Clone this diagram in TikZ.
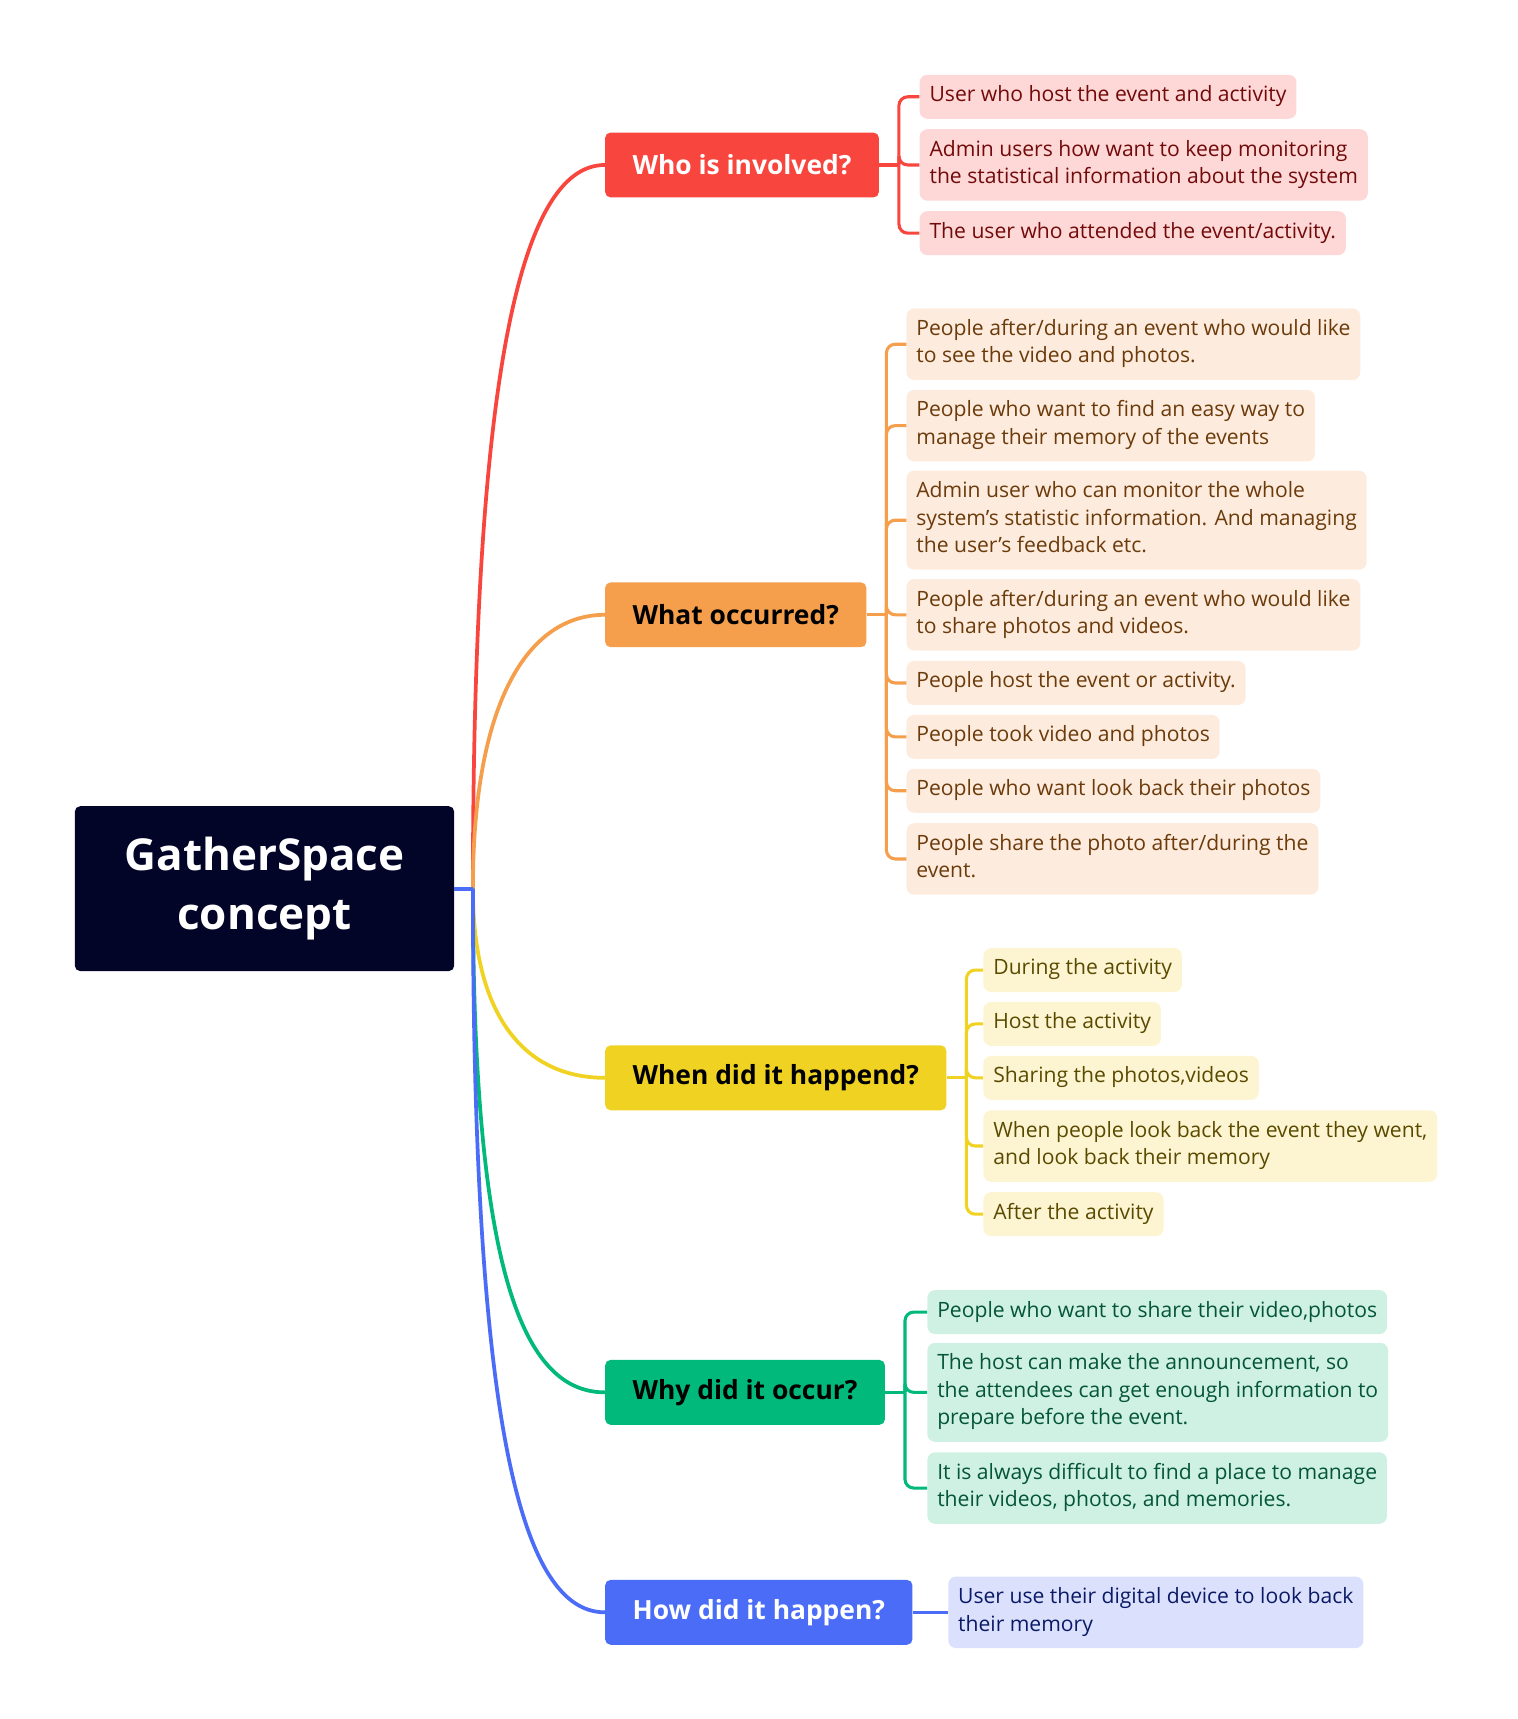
\documentclass[tikz,border=0pt]{standalone}
\usepackage{fontspec}
\setmainfont{Open Sans}
\definecolor{rootc}{RGB}{2,4,40}
\definecolor{redc}{RGB}{248,70,62}
\definecolor{redl}{RGB}{253,216,215}
\definecolor{redt}{RGB}{114,10,10}
\definecolor{orac}{RGB}{245,158,76}
\definecolor{oral}{RGB}{253,235,221}
\definecolor{orat}{RGB}{107,59,11}
\definecolor{yelc}{RGB}{240,211,34}
\definecolor{yell}{RGB}{253,245,210}
\definecolor{yelt}{RGB}{90,74,0}
\definecolor{grec}{RGB}{0,185,122}
\definecolor{grel}{RGB}{206,241,227}
\definecolor{gret}{RGB}{5,85,58}
\definecolor{bluc}{RGB}{74,108,247}
\definecolor{blul}{RGB}{219,225,252}
\definecolor{blut}{RGB}{11,26,102}
\begin{document}
\begin{tikzpicture}[x=1pt,y=-1pt,
    rootbox/.style={
      % The shape:
      rectangle,rounded corners=5pt,minimum width=345pt,minimum height=150pt,
      % The rest
      fill=rootc,text=white,align=center,
      font=\fontsize{40}{54}\selectfont\bfseries},
    branch/.style={
      rectangle,rounded corners=5pt,minimum height=59pt,inner xsep=25pt,
      anchor=west,fill=#1,font=\fontsize{24}{28}\selectfont\bfseries},
    leaf/.style={
      rectangle,rounded corners=7pt,inner xsep=9pt,inner ysep=11.5pt,
      anchor=west,align=left,text height=#1,text depth=4pt,
      font=\fontsize{19.2}{25}\selectfont},
    leaf/.default=13pt,
    link/.style={line width=3.4pt,draw=#1},
    tick/.style={line width=2.8pt,draw=#1,rounded corners=8pt}]
    \useasboundingbox (0,0) rectangle (1380,1563);
    \node (root) [rootbox] at (240.5,808) {GatherSpace\\concept};
    \coordinate (hub) at (430,808);
    % branches
    \node (who)  [branch=redc,text=white] at (550,150) {Who is involved?};
    \node (what) [branch=orac] at (550,559) {What occurred?};
    \node (when) [branch=yelc] at (550,980) {When did it happend?};
    \node (why)  [branch=grec] at (550,1266) {Why did it occur?};
    \node (how)  [branch=bluc,text=white] at (550,1466) {How did it happen?};
    % leaves
    \node (who1) [leaf,fill=redl,text=redt] at (836,88) {User who host the event and activity};
    \node (who2) [leaf=38pt,fill=redl,text=redt] at (836,150) {Admin users how want to keep monitoring\\the statistical information about the system};
    \node (who3) [leaf,fill=redl,text=redt] at (836,212) {The user who attended the event/activity.};
    \node (what1) [leaf=38pt,fill=oral,text=orat] at (824,313) {People after/during an event who would like\\to see the video and photos.};
    \node (what2) [leaf=38pt,fill=oral,text=orat] at (824,387) {People who want to find an easy way to\\manage their memory of the events};
    \node (what3) [leaf=63pt,fill=oral,text=orat] at (824,473) {Admin user who can monitor the whole\\system's statistic information. And managing\\the user's feedback etc.};
    \node (what4) [leaf=38pt,fill=oral,text=orat] at (824,559) {People after/during an event who would like\\to share photos and videos.};
    \node (what5) [leaf,fill=oral,text=orat] at (824,621) {People host the event or activity.};
    \node (what6) [leaf,fill=oral,text=orat] at (824,670) {People took video and photos};
    \node (what7) [leaf,fill=oral,text=orat] at (824,719) {People who want look back their photos};
    \node (what8) [leaf=38pt,fill=oral,text=orat] at (824,781) {People share the photo after/during the\\event.};
    \node (when1) [leaf,fill=yell,text=yelt] at (894,882) {During the activity};
    \node (when2) [leaf,fill=yell,text=yelt] at (894,931) {Host the activity};
    \node (when3) [leaf,fill=yell,text=yelt] at (894,980) {Sharing the photos,videos};
    \node (when4) [leaf=38pt,fill=yell,text=yelt] at (894,1042) {When people look back the event they went,\\and look back their memory};
    \node (when5) [leaf,fill=yell,text=yelt] at (894,1104) {After the activity};
    \node (why1) [leaf,fill=grel,text=gret] at (843,1193) {People who want to share their video,photos};
    \node (why2) [leaf=63pt,fill=grel,text=gret] at (843,1266) {The host can make the announcement, so\\the attendees can get enough information to\\prepare before the event.};
    \node (why3) [leaf=38pt,fill=grel,text=gret] at (843,1353) {It is always difficult to find a place to manage\\their videos, photos, and memories.};
    \node (how1) [leaf=38pt,fill=blul,text=blut] at (862,1466) {User use their digital device to look back\\their memory};
    % curves from the root
    \draw[link=redc] (hub) .. controls +(0,-450) and +(-80,0) .. (who.west);
    \draw[link=orac] (hub) .. controls +(0,-170) and +(-70,0) .. (what.west);
    \draw[link=yelc] (hub) .. controls +(0,120) and +(-70,0) .. (when.west);
    \draw[link=grec] (hub) .. controls +(0,330) and +(-80,0) .. (why.west);
    \draw[link=bluc] (hub) .. controls +(0,470) and +(-80,0) .. (how.west);
    \draw[link=bluc] (root.east) -- (hub);
    % brackets
    \coordinate (whoj)  at ([xshift=18pt]who.east);
    \coordinate (whatj) at ([xshift=18pt]what.east);
    \coordinate (whenj) at ([xshift=18pt]when.east);
    \coordinate (whyj)  at ([xshift=18pt]why.east);
    \draw[tick=redc] (who.east) -- (whoj);
    \draw[tick=orac] (what.east) -- (whatj);
    \draw[tick=yelc] (when.east) -- (whenj);
    \draw[tick=grec] (why.east) -- (whyj);
    \draw[tick=bluc] (how.east) -- (how1.west);
    \foreach \n in {who1,who2,who3} \draw[tick=redc] (whoj) |- (\n.west);
    \foreach \n in {what1,what2,what3,what4,what5,what6,what7,what8} \draw[tick=orac] (whatj) |- (\n.west);
    \foreach \n in {when1,when2,when3,when4,when5} \draw[tick=yelc] (whenj) |- (\n.west);
    \foreach \n in {why1,why2,why3} \draw[tick=grec] (whyj) |- (\n.west);
  \end{tikzpicture}
\end{document}
